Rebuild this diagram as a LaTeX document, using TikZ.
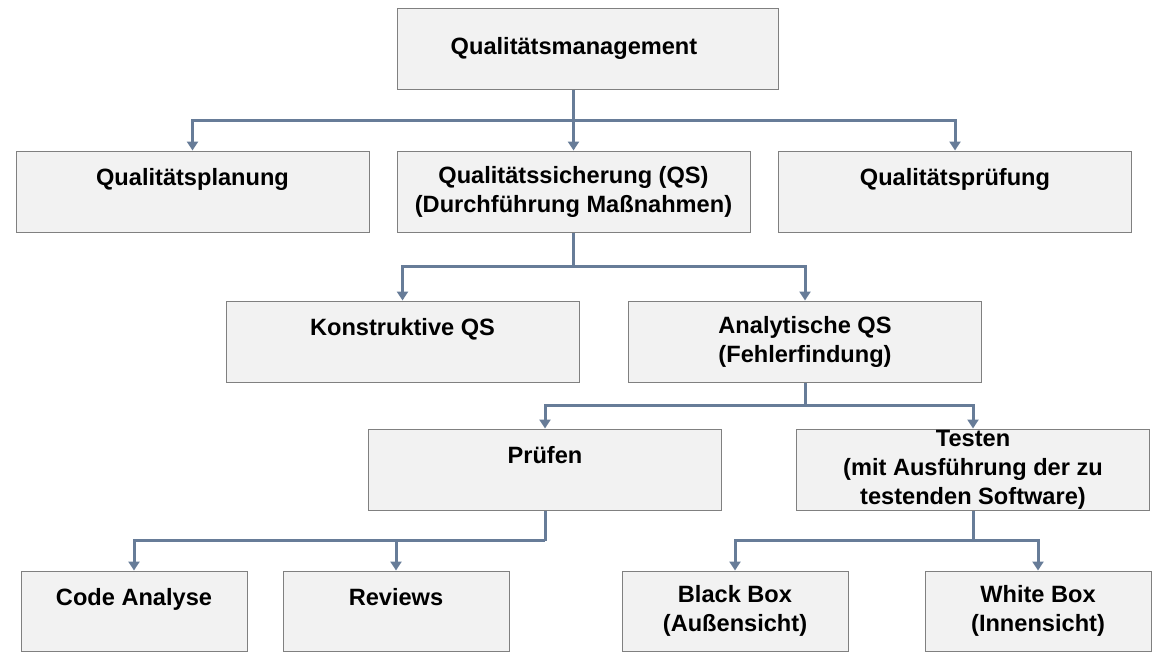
\documentclass[tikz,border=0pt]{standalone}
\usepackage{fontspec}
\setmainfont{Liberation Sans}
\usetikzlibrary{arrows.meta,calc}
\definecolor{boxfill}{RGB}{242,242,242}
\definecolor{boxline}{RGB}{128,128,128}
\definecolor{linkcol}{RGB}{103,124,152}
\tikzset{
  box/.style={shape=rectangle, draw=boxline, fill=boxfill, line width=1pt, minimum width=353pt, minimum height=81pt, align=center, inner sep=0pt, font=\fontsize{23.6}{29}\selectfont\bfseries},
  smallbox/.style={box, minimum width=226pt, minimum height=80pt},
  link/.style={draw=linkcol, line width=3pt},
  arrow/.style={link, -{Triangle[width=11pt,length=9pt]}}
}

\begin{document}
\begin{tikzpicture}[x=1pt,y=-1pt]
\useasboundingbox (0,0) rectangle (1167,662);
\node[box, minimum width=381pt](qm) at (587.5,48.5) {Qualitätsmanagement\hspace*{27pt}};
\node[box](plan) at (192.5,191.5) {Qualitätsplanung\\~};
\node[box](qs) at (573.5,191.5) {Qualitätssicherung (QS)\\(Durchführung Maßnahmen)};
\node[box](pruef) at (955,191.5) {Qualitätsprüfung\\~};
\node[box](konst) at (402.5,341.5) {Konstruktive QS\\~};
\node[box](analyt) at (805,341.5) {Analytische QS\\(Fehlerfindung)};
\node[box](pr) at (545,469.5) {Prüfen\\~};
\node[box](test) at (973,469.5) {Testen\\(mit Ausführung der zu\\testenden Software)};
\node[smallbox](code) at (134,611) {Code Analyse\\~};
\node[smallbox](rev) at (396,611) {Reviews\\~};
\node[smallbox](black) at (735,611) {Black Box\\(Außensicht)};
\node[smallbox](white) at (1038,611) {White Box\\(Innensicht)};

% level 1
\coordinate (bus1) at ($(qm.south)!0.5!(qs.north)$);
\draw[link] (qm.south -| qs.north) -- (bus1 -| qs.north);
\draw[arrow] (bus1 -| qs.north) -| (plan.north);
\draw[arrow] (bus1 -| qs.north) -- (qs.north);
\draw[arrow] (bus1 -| qs.north) -| (pruef.north);

% level 2
\coordinate (bus2) at ($(qs.south)!0.5!(konst.north)$);
\draw[link] (qs.south) -- (bus2 -| qs.south);
\draw[arrow] (bus2 -| qs.south) -| (konst.north);
\draw[arrow] (bus2 -| qs.south) -| (analyt.north);

% level 3
\coordinate (bus3) at ($(analyt.south)!0.5!(pr.north)$);
\draw[link] (analyt.south) -- (bus3 -| analyt.south);
\draw[arrow] (bus3 -| analyt.south) -| (pr.north);
\draw[arrow] (bus3 -| analyt.south) -| (test.north);

% level 4
\coordinate (bus4) at ($(pr.south)!0.5!(code.north)$);
\draw[link] (pr.south) -- (bus4 -| pr.south);
\draw[arrow] (bus4 -| pr.south) -| (code.north);
\draw[arrow] (bus4 -| rev.north) -- (rev.north);
\draw[link] (test.south) -- (bus4 -| test.south);
\draw[arrow] (bus4 -| test.south) -| (black.north);
\draw[arrow] (bus4 -| test.south) -| (white.north);
\end{tikzpicture}
\end{document}
